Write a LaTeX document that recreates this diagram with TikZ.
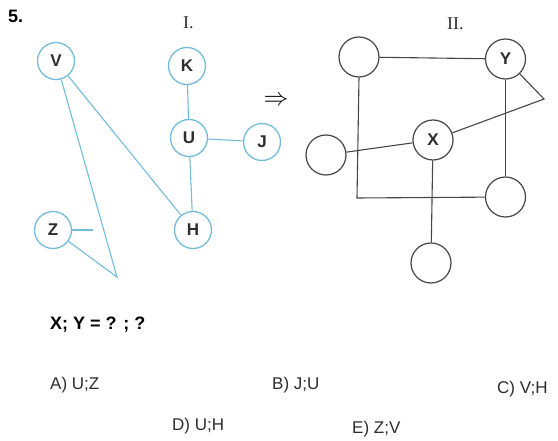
\documentclass[tikz,border=0pt]{standalone}
\usepackage{fontspec}
\setmainfont{Liberation Sans}
\newfontfamily\numfont{Liberation Serif}
\usepackage{tikz}
\usetikzlibrary{arrows.meta,positioning,calc}

\definecolor{edgeblue}{RGB}{115,188,218}
\definecolor{edgegray}{RGB}{70,70,70}
\definecolor{lettergray}{RGB}{45,45,45}

\begin{document}
\begin{tikzpicture}[
  x=1pt, y=-1pt,
  bnode/.style={circle, draw=edgeblue, line width=1.3pt, fill=white, minimum size=37pt, inner sep=0pt, font=\fontsize{17}{17}\selectfont\bfseries, text=lettergray},
  gnode/.style={circle, draw=edgegray, line width=1.2pt, fill=white, minimum size=40pt, inner sep=0pt, font=\fontsize{17}{17}\selectfont\bfseries, text=lettergray},
  bline/.style={draw=edgeblue, line width=1.1pt},
  gline/.style={draw=edgegray, line width=1.1pt},
  answer/.style={anchor=base west, inner sep=0pt, font=\fontsize{17}{17}\selectfont, text=lettergray},
  roman/.style={anchor=base west, inner sep=0pt, font=\numfont\fontsize{18}{18}\selectfont, text=lettergray},
]
\useasboundingbox (0,0) rectangle (558,441);

%------------------- Titles -------------------
\node (num) [anchor=base west, inner sep=0pt, font=\fontsize{18}{18}\selectfont\bfseries] at (8,23) {5.};
\node (one) [roman] at (183,29) {I.};
\node (two) [roman] at (447,30) {II.};
\node (implies) at (276,101) {\fontsize{24}{24}\selectfont$\Rightarrow$};

%------------------- Graph I -------------------
\node (V) [bnode] at (56,61) {V};
\node (K) [bnode] at (187,66) {K};
\node (U) [bnode] at (189,138) {U};
\node (J) [bnode] at (262,142) {J};
\node (Z) [bnode] at (53,230) {Z};
\node (H) [bnode] at (193,230) {H};
\coordinate (tip) at (117,277);
\coordinate (stub) at (93,230);

\draw[bline] (V) -- (H);
\draw[bline] (V) -- (tip) -- (Z);
\draw[bline] (Z) -- (stub);
\draw[bline] (K) -- (U);
\draw[bline] (U) -- (J);
\draw[bline] (U) -- (H);

%------------------- Graph II -------------------
\node (TL) [gnode] at (359,57) {};
\node (Y) [gnode] at (505.5,59) {Y};
\node (X) [gnode] at (433,140) {X};
\node (L) [gnode] at (326,155) {};
\node (RB) [gnode] at (505.5,197) {};
\node (B) [gnode] at (431,263) {};
\coordinate (corner1) at (357,198);
\coordinate (corner2) at (544,99);

\draw[gline] (TL) -- (Y);
\draw[gline] (TL.south) -- (corner1) -- (RB);
\draw[gline] (Y) -- (RB);
\draw[gline] (Y) -- (corner2) -- (X);
\draw[gline] (L) -- (X);
\draw[gline] (X) -- (B);

%------------------- Question and answers -------------------
\node (question) [anchor=base west, inner sep=0pt, font=\fontsize{18}{18}\selectfont\bfseries] at (50,330) {X; Y = ? ; ?};
\node (ansA) [answer] at (50,390) {A) U;Z};
\node (ansB) [answer] at (272,390) {B) J;U};
\node (ansC) [answer] at (497,394) {C) V;H};
\node (ansD) [answer] at (172,431) {D) U;H};
\node (ansE) [answer] at (352,434) {E) Z;V};

\end{tikzpicture}
\end{document}
